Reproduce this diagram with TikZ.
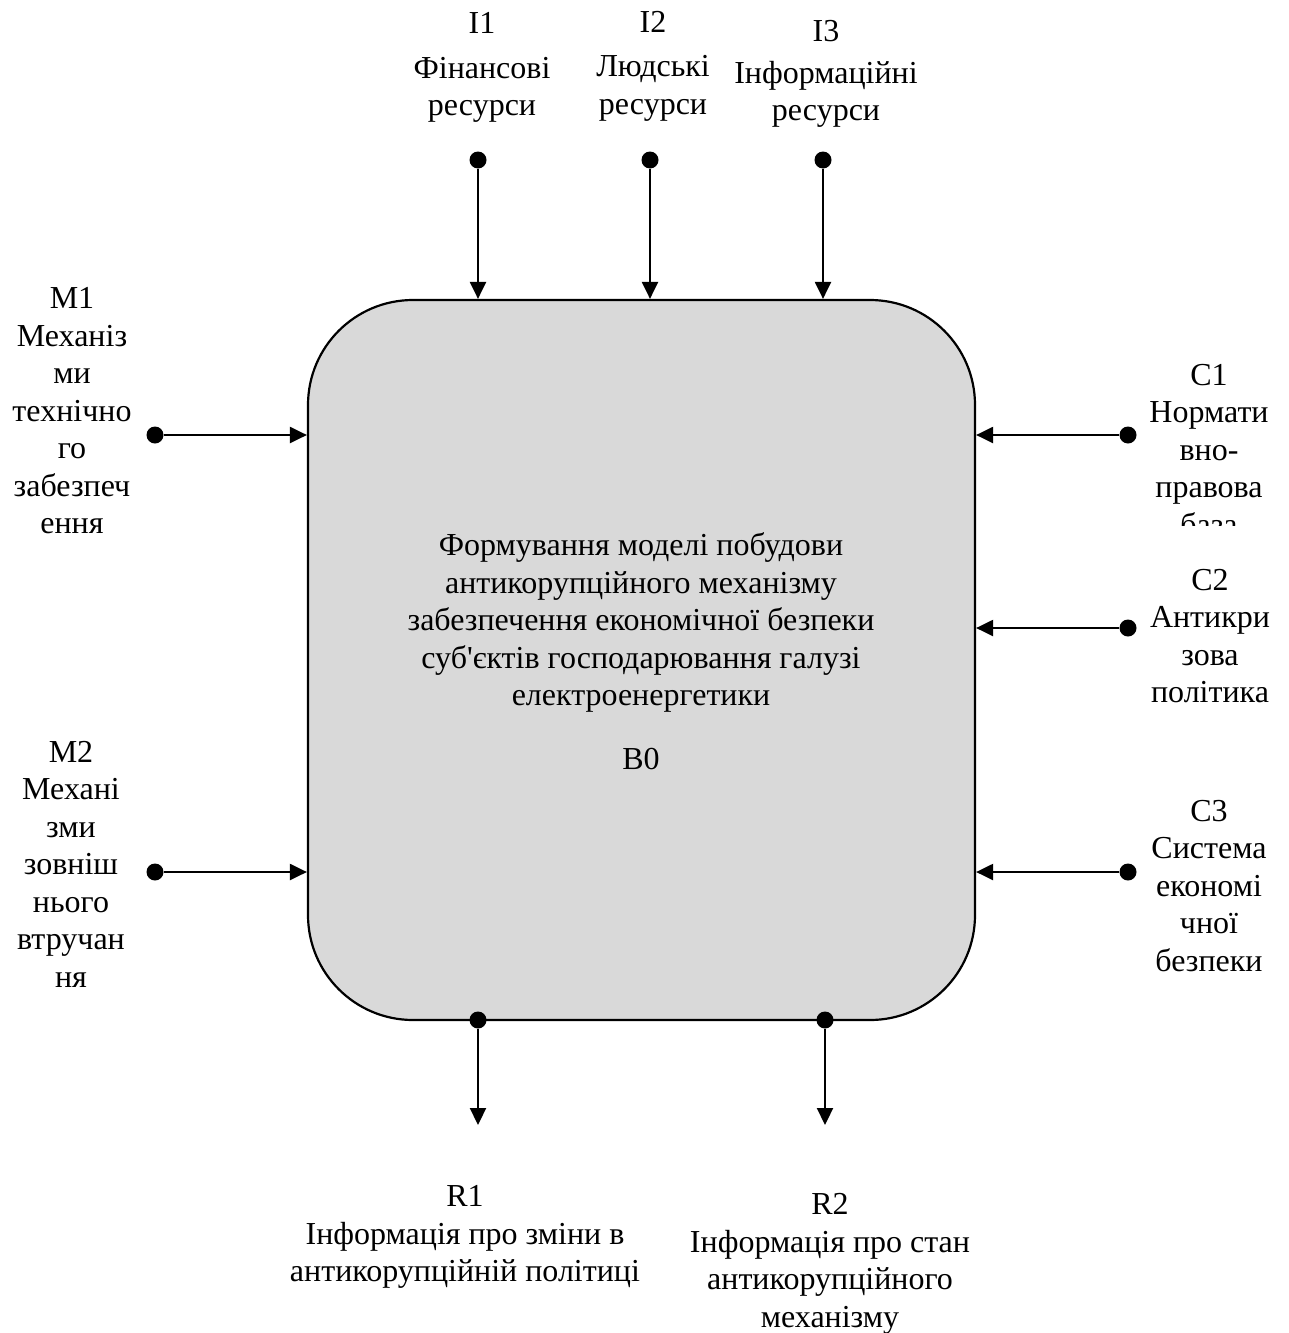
\documentclass[tikz,border=0pt]{standalone}
\usepackage{fontspec}
\setmainfont{Liberation Serif}
\usetikzlibrary{arrows.meta}
\definecolor{boxgrey}{RGB}{217,217,217}

\begin{document}
\begin{tikzpicture}[x=1pt,y=-1pt,
  lbl/.style={align=center, inner sep=0pt, font=\fontsize{32}{37.5}\selectfont},
  flow/.style={line width=2.2pt, -{Triangle[length=17pt,width=16pt]}},
  dot/.style={circle, fill=black, inner sep=0pt, minimum size=17pt},
]
\useasboundingbox (0,0) rectangle (1288,1333);

% function block
\node[draw, line width=2.2pt, fill=boxgrey, rounded corners=105pt,
      minimum width=667pt, minimum height=720pt, inner sep=0pt] (box) at (641.5,660) {};
\node[lbl] (title) at (641,651) {Формування моделі побудови\\
  антикорупційного механізму\\
  забезпечення економічної безпеки\\
  суб\textquotesingle єктів господарювання галузі\\
  електроенергетики\\[26pt]
  B0};

% inputs (top)
\node[dot] (i1) at (478,160) {};
\node[dot] (i2) at (650,160) {};
\node[dot] (i3) at (823,160) {};
\draw[flow] (i1) -- (i1 |- box.north);
\draw[flow] (i2) -- (i2 |- box.north);
\draw[flow] (i3) -- (i3 |- box.north);
\node[lbl] (li1) at (482,67.5) {I1\\[7pt]Фінансові\\ресурси};
\node[lbl] (li2) at (653,66) {I2\\[7pt]Людські\\ресурси};
\node[lbl] (li3) at (826,74) {I3\\[4pt]Інформаційні\\ресурси};

% mechanisms (left)
\node[dot] (m1) at (155,435) {};
\node[dot] (m2) at (155,872) {};
\draw[flow] (m1) -- (m1 -| box.west);
\draw[flow] (m2) -- (m2 -| box.west);
\node[lbl] (lm1) at (72,411) {M1\\Механіз\\ми\\технічно\\го\\забезпеч\\ення};
\node[lbl] (lm2) at (71,864) {M2\\Механі\\зми\\зовніш\\нього\\втручан\\ня};

% controls (right)
\node[dot] (c1) at (1128,435) {};
\node[dot] (c2) at (1128,628) {};
\node[dot] (c3) at (1128,872) {};
\draw[flow] (c1) -- (c1 -| box.east);
\draw[flow] (c2) -- (c2 -| box.east);
\draw[flow] (c3) -- (c3 -| box.east);
\begin{scope}
  \clip (1130,330) rectangle (1288,525);
  \node[lbl] (lc1) at (1209,450) {C1\\Нормати\\вно-\\правова\\база};
\end{scope}
\node[lbl] (lc2) at (1210,636) {C2\\Антикри\\зова\\політика};
\node[lbl] (lc3) at (1209,886) {C3\\Система\\економі\\чної\\безпеки};

% outputs (bottom)
\node[dot] (r1) at (478,1020) {};
\node[dot] (r2) at (825,1020) {};
\coordinate (r1end) at (478,1125);
\coordinate (r2end) at (825,1125);
\draw[flow] (r1) -- (r1end);
\draw[flow] (r2) -- (r2end);
\node[lbl] (lr1) at (465,1237) {R1\\Інформація про зміни в\\антикорупційній політиці};
\node[lbl] (lr2) at (830,1264) {R2\\Інформація про стан\\антикорупційного\\механізму};
\end{tikzpicture}
\end{document}
